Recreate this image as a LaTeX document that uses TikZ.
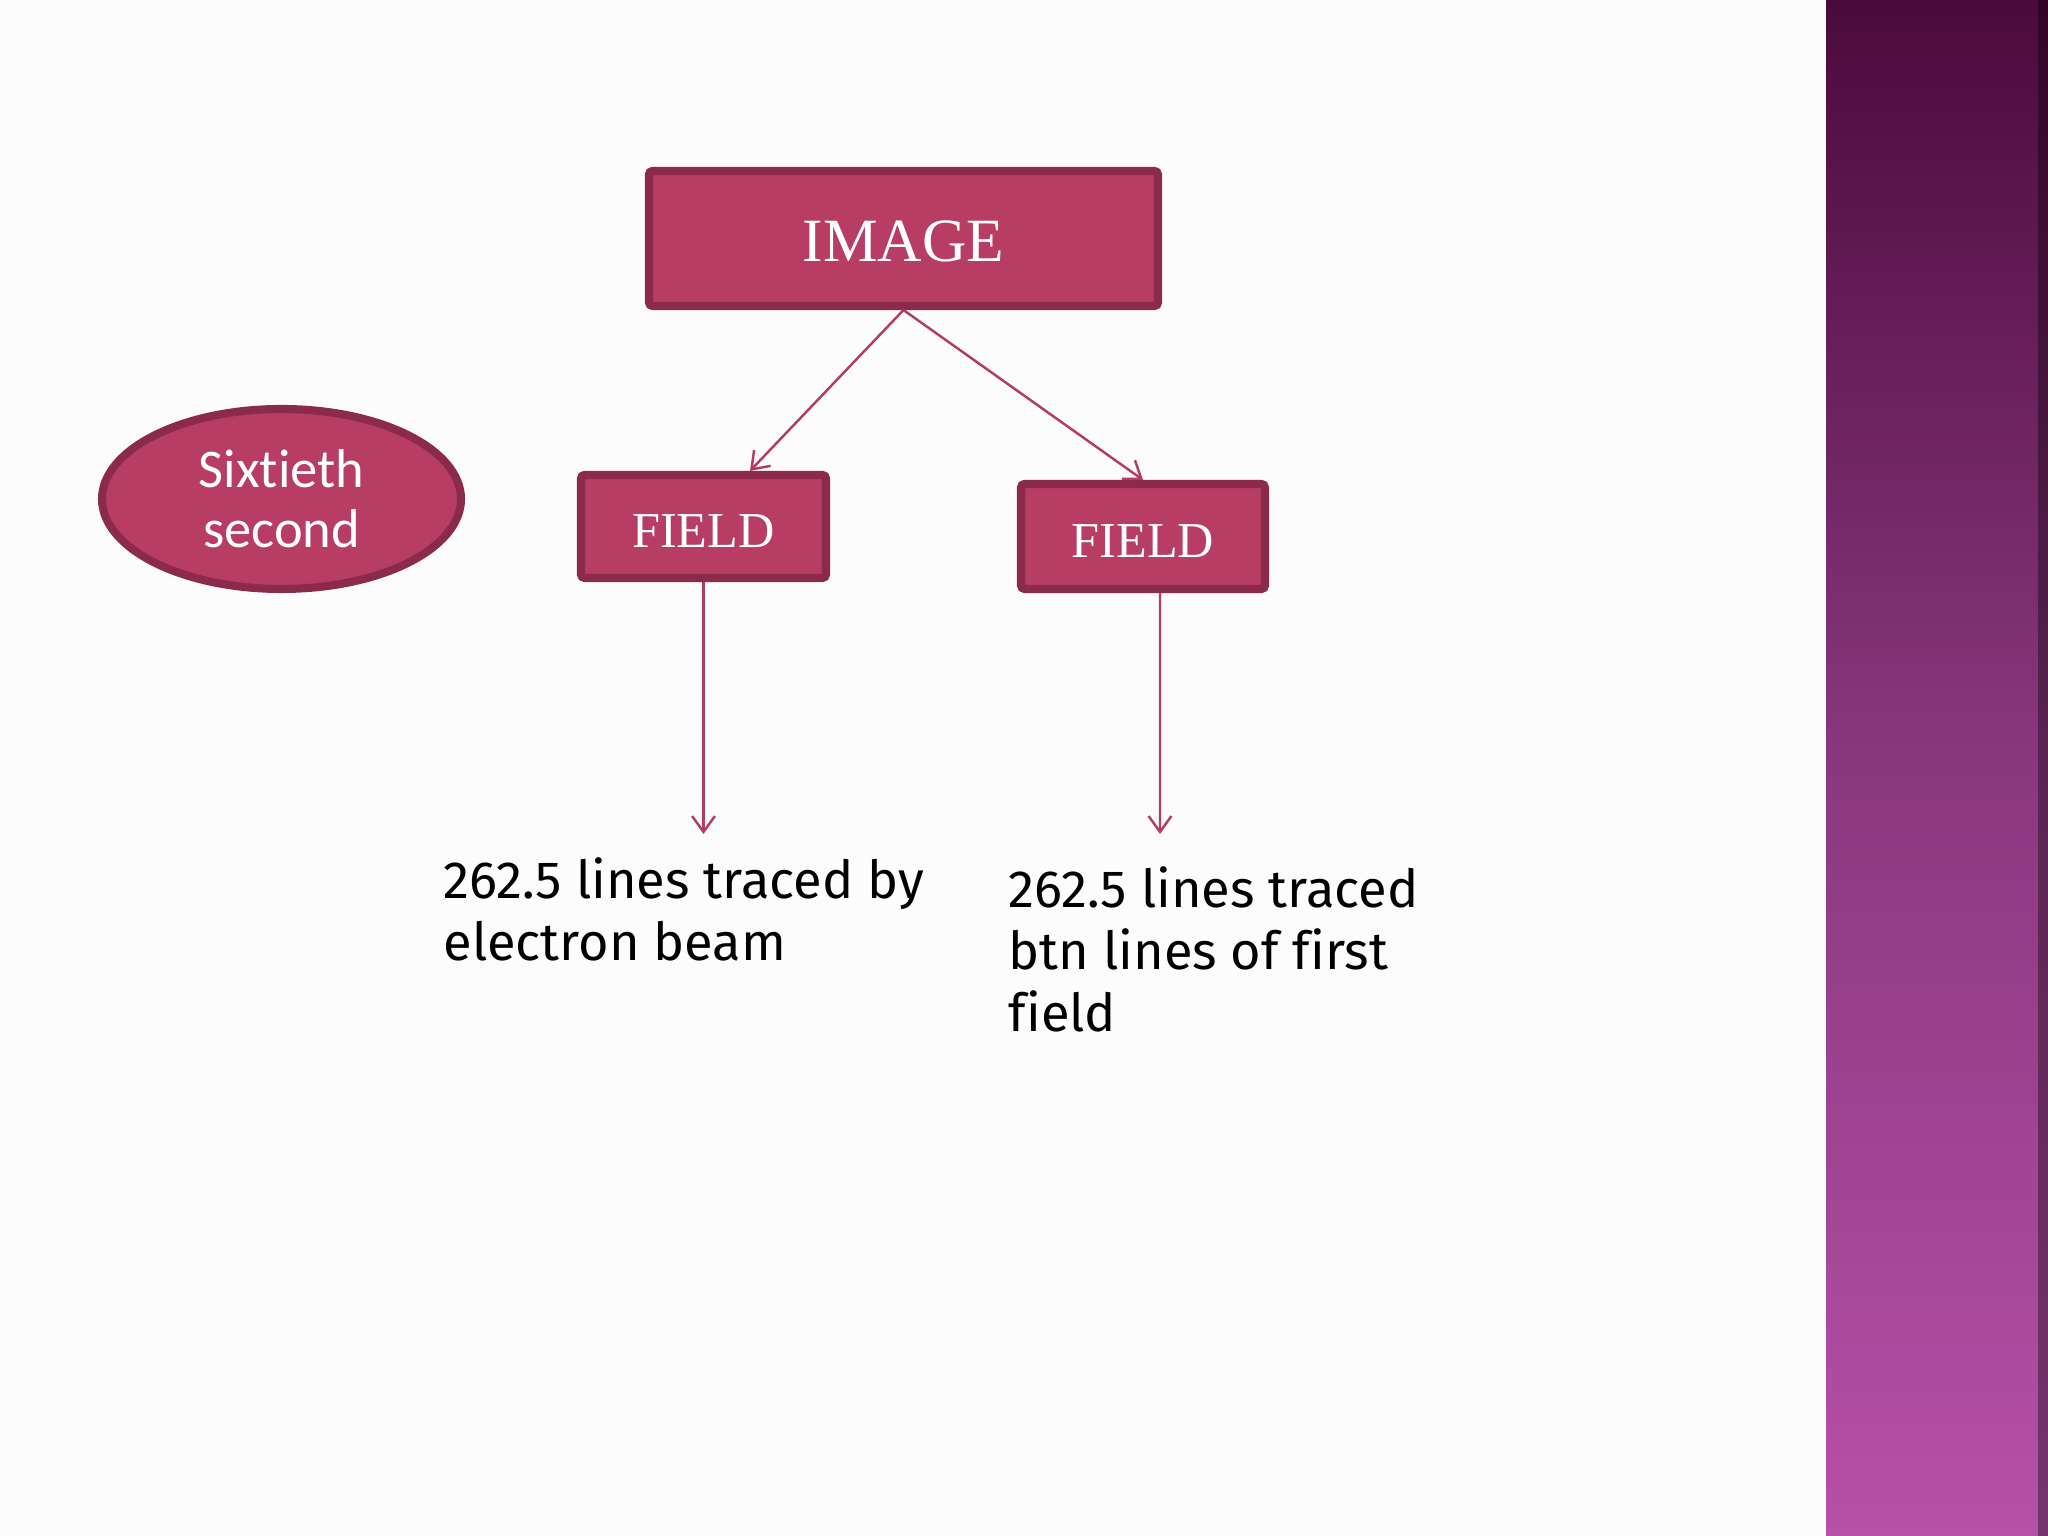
\documentclass[tikz,border=0pt]{standalone}
\usepackage{fontspec}
\usepackage{tikz}
\usetikzlibrary{arrows.meta,shapes.geometric}
\newfontfamily\bodyfont[Ligatures=NoCommon]{Fira Sans}
\newfontfamily\boxfont{Liberation Serif}
\newfontfamily\ovalfont[Ligatures=NoCommon]{Carlito}
\definecolor{boxfill}{HTML}{B73D64}
\definecolor{boxline}{HTML}{8C2A4C}
\definecolor{arrowcol}{HTML}{B23C66}
\definecolor{barTop}{HTML}{4B0A3C}
\definecolor{barMid}{HTML}{8A387E}
\definecolor{barBot}{HTML}{B650A8}

\begin{document}
\begin{tikzpicture}
                    \tikzstyle{pinkbox}=[rectangle,draw=boxline,fill=boxfill,line width=2.3pt,rounded corners=1pt,text=white,inner sep=0pt]
                    \tikzstyle{pinkoval}=[ellipse,draw=boxline,fill=boxfill,line width=2.3pt,text=white,inner sep=0pt,align=center,font=\ovalfont\fontsize{15.5}{17}\selectfont,minimum width=3.59cm,minimum height=1.8cm]
                    \tikzstyle{note}=[anchor=north west,align=left,inner sep=0pt,font=\bodyfont\fontsize{14.9}{17.6}\selectfont]
                    \tikzstyle{link}=[draw=arrowcol,line width=0.7pt,-{Straight Barb[length=4.5pt,width=6.5pt]}]
                    \useasboundingbox (0,0) rectangle (20.48,15.36);
                    \fill[white!99!black] (0,0) rectangle (20.48,15.36);
                    \shade[top color=barTop,bottom color=barBot,middle color=barMid] (18.26,0) rectangle (20.48,15.36);
                    \fill[black,opacity=0.35] (20.38,0) rectangle (20.48,15.36);
                    \node[pinkbox,minimum width=5.09cm,minimum height=1.35cm,text height=13.2pt,text depth=0pt,font=\boxfont\fontsize{17.5}{20}\selectfont] (image) at (9.035,12.975) {IMAGE};
                    \node[pinkbox,minimum width=2.45cm,minimum height=1.03cm,text height=11.7pt,text depth=0pt,font=\boxfont\fontsize{14.3}{17}\selectfont] (fieldL) at (7.035,10.095) {FIELD};
                    \node[pinkbox,minimum width=2.44cm,minimum height=1.05cm,text height=11.7pt,text depth=0pt,font=\boxfont\fontsize{14.3}{17}\selectfont] (fieldR) at (11.43,9.995) {FIELD};
                    \node[pinkoval] (sixtieth) at (2.815,10.37) {Sixtieth\\second};
                    \node[note] (traceL) at (4.43,6.79) {262.5 lines traced by\\electron beam};
                    \node[note] (traceR) at (10.08,6.70) {262.5 lines traced\\btn lines of first\\field};
                    \coordinate (endL) at (7.035,7.02);
                    \coordinate (endR) at (11.60,7.02);
                    \draw[link] (image.south) -- ([xshift=0.465cm]fieldL.north);
                    \draw[link] (image.south) -- (fieldR.north);
                    \draw[link] (fieldL.south) -- (endL);
                    \draw[link] ([xshift=0.17cm]fieldR.south) -- (endR);
                \end{tikzpicture}
\end{document}
